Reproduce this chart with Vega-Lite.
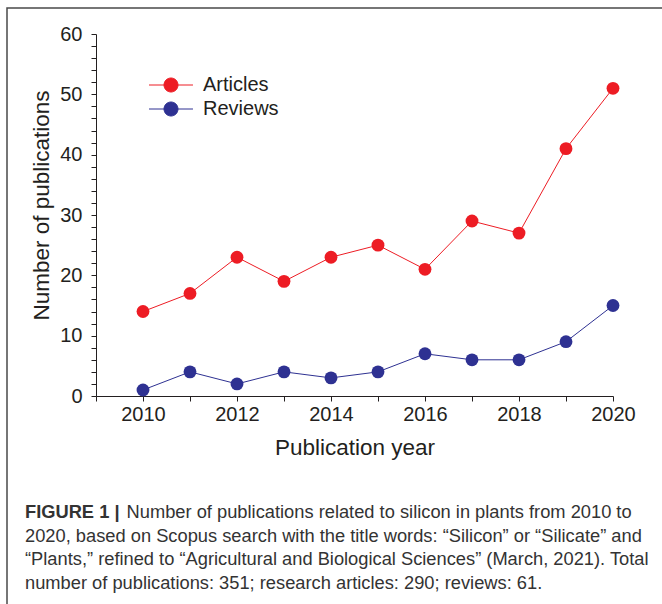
{
  "$schema": "https://vega.github.io/schema/vega-lite/v6.json",
  "width": 656,
  "height": 597,
  "autosize": {"type": "none"},
  "padding": {"left": 7, "top": 8, "right": -1, "bottom": -1},
  "background": "white",
  "config": {
    "view": {"stroke": "#4a4a4a", "strokeWidth": 1.5},
    "font": "Liberation Sans",
    "axis": {
      "labelFont": "Liberation Sans",
      "labelFontSize": 20,
      "labelColor": "#231f20",
      "titleFont": "Liberation Sans",
      "titleFontSize": 22.5,
      "titleFontWeight": "normal",
      "titleColor": "#231f20",
      "domainColor": "#231f20",
      "domainWidth": 1,
      "tickColor": "#231f20",
      "tickWidth": 1,
      "tickSize": 5,
      "grid": false
    }
  },
  "title": {
    "text": "FIGURE 1 |",
    "subtitle": [
      "\u200b\u00a0\u00a0\u00a0\u00a0\u00a0\u00a0\u00a0\u00a0\u00a0\u00a0\u00a0\u00a0\u00a0\u00a0\u00a0\u00a0\u00a0\u00a0\u00a0\u00a0Number of publications related to silicon in plants from 2010 to",
      "2020, based on Scopus search with the title words: \u201cSilicon\u201d or \u201cSilicate\u201d and",
      "\u201cPlants,\u201d refined to \u201cAgricultural and Biological Sciences\u201d (March, 2021). Total",
      "number of publications: 351; research articles: 290; reviews: 61."
    ],
    "orient": "bottom",
    "anchor": "start",
    "frame": "group",
    "offset": -101,
    "dx": 18,
    "font": "Liberation Sans",
    "fontSize": 18.3,
    "fontWeight": "bold",
    "color": "#333333",
    "lineHeight": 23.5,
    "subtitleFont": "Liberation Sans",
    "subtitleFontSize": 18.3,
    "subtitleFontWeight": "normal",
    "subtitleColor": "#333333",
    "subtitleLineHeight": 23.5,
    "subtitlePadding": -18.3
  },
  "data": {
    "values": [
      {"year": 2010, "type": "Articles", "count": 14},
      {"year": 2011, "type": "Articles", "count": 17},
      {"year": 2012, "type": "Articles", "count": 23},
      {"year": 2013, "type": "Articles", "count": 19},
      {"year": 2014, "type": "Articles", "count": 23},
      {"year": 2015, "type": "Articles", "count": 25},
      {"year": 2016, "type": "Articles", "count": 21},
      {"year": 2017, "type": "Articles", "count": 29},
      {"year": 2018, "type": "Articles", "count": 27},
      {"year": 2019, "type": "Articles", "count": 41},
      {"year": 2020, "type": "Articles", "count": 51},
      {"year": 2010, "type": "Reviews", "count": 1},
      {"year": 2011, "type": "Reviews", "count": 4},
      {"year": 2012, "type": "Reviews", "count": 2},
      {"year": 2013, "type": "Reviews", "count": 4},
      {"year": 2014, "type": "Reviews", "count": 3},
      {"year": 2015, "type": "Reviews", "count": 4},
      {"year": 2016, "type": "Reviews", "count": 7},
      {"year": 2017, "type": "Reviews", "count": 6},
      {"year": 2018, "type": "Reviews", "count": 6},
      {"year": 2019, "type": "Reviews", "count": 9},
      {"year": 2020, "type": "Reviews", "count": 15}
    ]
  },
  "encoding": {
    "x": {
      "field": "year",
      "type": "quantitative",
      "scale": {"domain": [2009, 2020], "range": [89, 606], "nice": false, "zero": false},
      "axis": {
        "title": "Publication year",
        "orient": "bottom",
        "offset": -209,
        "values": [2009, 2010, 2011, 2012, 2013, 2014, 2015, 2016, 2017, 2018, 2019, 2020],
        "format": "d",
        "labelExpr": "datum.value % 2 == 0 ? datum.label : ''",
        "labelPadding": 3,
        "labelFlush": false,
        "labelOverlap": false,
        "titlePadding": 12
      }
    },
    "y": {
      "field": "count",
      "type": "quantitative",
      "scale": {"domain": [0, 60], "range": [388, 26], "nice": false},
      "axis": {
        "title": "Number of publications",
        "orient": "left",
        "offset": -89,
        "values": [0, 2, 4, 6, 8, 10, 12, 14, 16, 18, 20, 22, 24, 26, 28, 30, 32, 34, 36, 38, 40, 42, 44, 46, 48, 50, 52, 54, 56, 58, 60],
        "labelExpr": "datum.value % 10 == 0 ? datum.label : ''",
        "labelPadding": 9,
        "labelOverlap": false,
        "labelFlush": false,
        "titlePadding": 6,
        "titleY": 197
      }
    },
    "color": {
      "field": "type",
      "type": "nominal",
      "scale": {"domain": ["Articles", "Reviews"], "range": ["#ED1C24", "#2E3192"]},
      "legend": {
        "orient": "none",
        "legendX": 154,
        "legendY": 67,
        "title": null,
        "symbolType": "M-3.14,0L3.14,0M1,0A1,1,0,1,1,-1,0A1,1,0,1,1,1,0Z",
        "symbolSize": 196,
        "symbolStrokeWidth": 1,
        "labelFont": "Liberation Sans",
        "labelFontSize": 20,
        "labelColor": "#231f20",
        "labelOffset": 22,
        "rowPadding": 4,
        "padding": 0,
        "encode": {
          "symbols": {
            "update": {
              "fill": {"scale": "color", "field": "value"},
              "stroke": {"scale": "color", "field": "value"},
              "opacity": {"value": 1},
              "fillOpacity": {"value": 1}
            }
          }
        }
      }
    }
  },
  "layer": [
    {"mark": {"type": "line", "strokeWidth": 1}},
    {"mark": {"type": "point", "filled": true, "size": 165, "opacity": 1}}
  ]
}
